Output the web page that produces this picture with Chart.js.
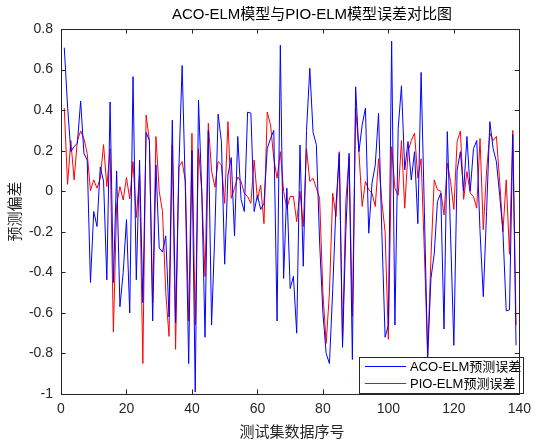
<!DOCTYPE html>
<html>
<head>
<meta charset="utf-8">
<script src="https://cdn.jsdelivr.net/npm/chart.js@4/dist/chart.umd.min.js"></script>
<style>
html,body{margin:0;padding:0;background:#fff;}
#wrap{width:538px;height:441px;}
</style>
</head>
<body>
<div id="wrap"><canvas id="c" width="538" height="441"></canvas></div>
<script>
const titleText = 'ACO-ELM模型与PIO-ELM模型误差对比图';
const xTitle = '测试集数据序号';
const yTitle = '预测偏差';
const seriesNames = ['ACO-ELM预测误差', 'PIO-ELM预测误差'];
const seriesColors = ['#0000ff', '#ff0000'];
const xTicks = [0, 20, 40, 60, 80, 100, 120, 140];
const yTicks = [-1, -0.8, -0.6, -0.4, -0.2, 0, 0.2, 0.4, 0.6, 0.8];

const acoErr = [
 0.708, 0.42, 0.195, 0.22, 0.236, 0.445, 0.187, 0.154, -0.45, -0.1,
 -0.174, 0.12, 0.05, -0.437, 0.44, -0.45, 0.1, -0.57, -0.4, -0.14,
 -0.6, 0.565, -0.437, 0.154, -0.55, 0.29, 0.25, -0.64, 0.13, -0.28,
 -0.3, -0.22, -0.62, 0.35, -0.65, 0.11, 0.62, 0.0, -0.85, 0.2,
 -0.99, 0.45, 0.0, -0.72, 0.3, -0.66, -0.2, 0.38, 0.245, -0.36,
 0.08, 0.166, -0.22, 0.27, -0.04, -0.1, 0.39, 0.385, -0.1, -0.02,
 -0.09, -0.06, 0.21, 0.26, 0.3, -0.64, 0.72, -0.43, 0.015, -0.48,
 -0.42, -0.7, 0.228, -0.37, 0.3, 0.606, 0.29, 0.23, -0.25, -0.6,
 -0.8, -0.85, -0.486, -0.07, 0.187, -0.77, -0.2, 0.187, -0.83, 0.515,
 0.195, 0.327, 0.41, -0.207, 0.04, 0.13, 0.384, -0.2, -0.72, -0.66,
 0.74, -0.66, 0.31, 0.52, 0.105, 0.245, 0.056, 0.195, -0.16, 0.586,
 -0.1, -0.82, -0.43, -0.31, -0.05, -0.01, -0.68, 0.294, -0.215, -0.76,
 0.105, 0.195, 0.0, 0.27, 0.0, 0.21, 0.25, -0.2, -0.52, -0.1,
 0.343, 0.21, 0.146, -0.02, -0.2, -0.59, -0.585, 0.28, -0.76
];
const pioErr = [
 0.41, 0.034, 0.25, 0.056, 0.25, 0.297, 0.26, 0.187, 0.003, 0.056,
 0.015, 0.064, 0.23, 0.023, 0.21, -0.695, -0.067, 0.023, -0.043, 0.067,
 -0.038, 0.146, -0.13, 0.08, -0.85, 0.376, 0.25, -0.55, 0.27, 0.0,
 -0.1, -0.5, -0.716, 0.23, -0.78, 0.12, 0.146, 0.05, -0.64, 0.286,
 -0.66, 0.21, 0.0, -0.42, 0.335, 0.1, 0.02, 0.146, 0.13, -0.06,
 0.343, -0.035, 0.015, 0.07, 0.048, -0.01, -0.026, -0.06, 0.154, -0.04,
 0.03, -0.16, 0.39, 0.327, 0.16, 0.064, 0.195, 0.0, -0.084, -0.026,
 -0.026, -0.15, 0.0, -0.174, 0.21, 0.048, 0.064, 0.015, -0.034, -0.5,
 -0.75, -0.5, -0.01, -0.125, 0.195, -0.74, -0.05, 0.17, -0.617, 0.41,
 0.195, -0.075, 0.048, 0.007, -0.01, -0.075, 0.16, -0.05, -0.2, -0.73,
 0.22, 0.015, -0.02, 0.25, -0.084, 0.195, 0.25, 0.286, 0.064, 0.16,
 -0.3, -0.81, -0.33, 0.056, 0.007, 0.0, -0.117, 0.138, 0.048, -0.09,
 0.245, 0.297, -0.04, 0.097, -0.01, -0.026, -0.084, 0.26, -0.19, 0.1,
 0.286, 0.25, 0.27, 0.048, -0.2, 0.056, -0.31, 0.3, -0.66
];
const sampleNo = acoErr.map((_, i) => i + 1);

const LATIN = '"Liberation Sans", Arial, "Noto Sans CJK SC", sans-serif';
const CJK = '"Liberation Sans", "Noto Sans CJK SC", sans-serif';

const toPts = arr => arr.map((v, i) => ({x: sampleNo[i], y: v}));

const framePlugin = {
  id: 'matlabFrame',
  afterDatasetsDraw(chart) {
    const {ctx, chartArea: a, scales} = chart;
    const xs = scales.x, ys = scales.y;
    ctx.save();
    ctx.strokeStyle = '#262626';
    ctx.lineWidth = 1;
    const tl = 4.6;
    ctx.beginPath();
    xTicks.forEach(t => {
      const px = Math.round(xs.getPixelForValue(t)) + 0.5;
      ctx.moveTo(px, a.bottom); ctx.lineTo(px, a.bottom - tl);
      ctx.moveTo(px, a.top); ctx.lineTo(px, a.top + tl);
    });
    yTicks.forEach(t => {
      const py = Math.round(ys.getPixelForValue(t)) + 0.5;
      ctx.moveTo(a.left, py); ctx.lineTo(a.left + tl, py);
      ctx.moveTo(a.right, py); ctx.lineTo(a.right - tl, py);
    });
    ctx.stroke();
    // legend box
    const lx = 359.5, ly = 357.5, lw = 164, lh = 36;
    ctx.fillStyle = '#fff';
    ctx.fillRect(lx, ly, lw, lh);
    ctx.strokeStyle = '#262626';
    ctx.strokeRect(lx, ly, lw, lh);
    const ds = chart.data.datasets;
    const rows = [366.5, 383.5];
    ctx.font = '13px ' + CJK;
    ctx.textBaseline = 'middle';
    ctx.textAlign = 'left';
    ds.forEach((d, i) => {
      ctx.beginPath();
      ctx.strokeStyle = seriesColors[i];
      ctx.moveTo(365, rows[i]); ctx.lineTo(406, rows[i]);
      ctx.stroke();
      ctx.fillStyle = '#000';
      ctx.fillText(d.label, 410, rows[i] + 0.5);
    });
    // frame
    ctx.beginPath();
    ctx.strokeStyle = '#262626';
    ctx.strokeRect(Math.round(a.left) + 0.5, Math.round(a.top) + 0.5,
                   Math.round(a.right - a.left), Math.round(a.bottom - a.top));
    // titles
    ctx.fillStyle = '#000';
    ctx.textAlign = 'center';
    ctx.font = '15px ' + CJK;
    ctx.fillText(titleText, 312, 15);
    ctx.fillStyle = '#262626';
    ctx.fillText(xTitle, 292, 433);
    ctx.translate(16, 211.5);
    ctx.rotate(-Math.PI / 2);
    ctx.fillText(yTitle, 0, 0);
    ctx.restore();
  }
};

new Chart(document.getElementById('c'), {
  type: 'line',
  data: {
    datasets: [
      {label: seriesNames[0], data: toPts(acoErr), borderColor: seriesColors[0], borderWidth: 1,
       pointRadius: 0, tension: 0, fill: false},
      {label: seriesNames[1], data: toPts(pioErr), borderColor: seriesColors[1], borderWidth: 1,
       pointRadius: 0, tension: 0, fill: false}
    ]
  },
  options: {
    responsive: false,
    animation: false,
    devicePixelRatio: 1,
    layout: {padding: {top: 29, right: 15, left: 0, bottom: 0}},
    plugins: {legend: {display: false}, title: {display: false}, tooltip: {enabled: false}},
    scales: {
      x: {
        type: 'linear', min: 0, max: 140,
        afterFit: s => { s.height = 47; },
        afterBuildTicks: s => { s.ticks = xTicks.map(v => ({value: v})); },
        grid: {display: false, drawTicks: false},
        border: {display: false},
        ticks: {color: '#262626', font: {size: 14, family: LATIN}, padding: 7, maxRotation: 0,
                callback: v => String(v)}
      },
      y: {
        type: 'linear', min: -1, max: 0.8,
        afterFit: s => { s.width = 61; },
        afterBuildTicks: s => { s.ticks = yTicks.map(v => ({value: v})); },
        grid: {display: false, drawTicks: false},
        border: {display: false},
        ticks: {color: '#262626', font: {size: 14, family: LATIN}, padding: 8,
                callback: v => String(Math.round(v * 10) / 10)}
      }
    }
  },
  plugins: [framePlugin]
});
</script>
</body>
</html>
